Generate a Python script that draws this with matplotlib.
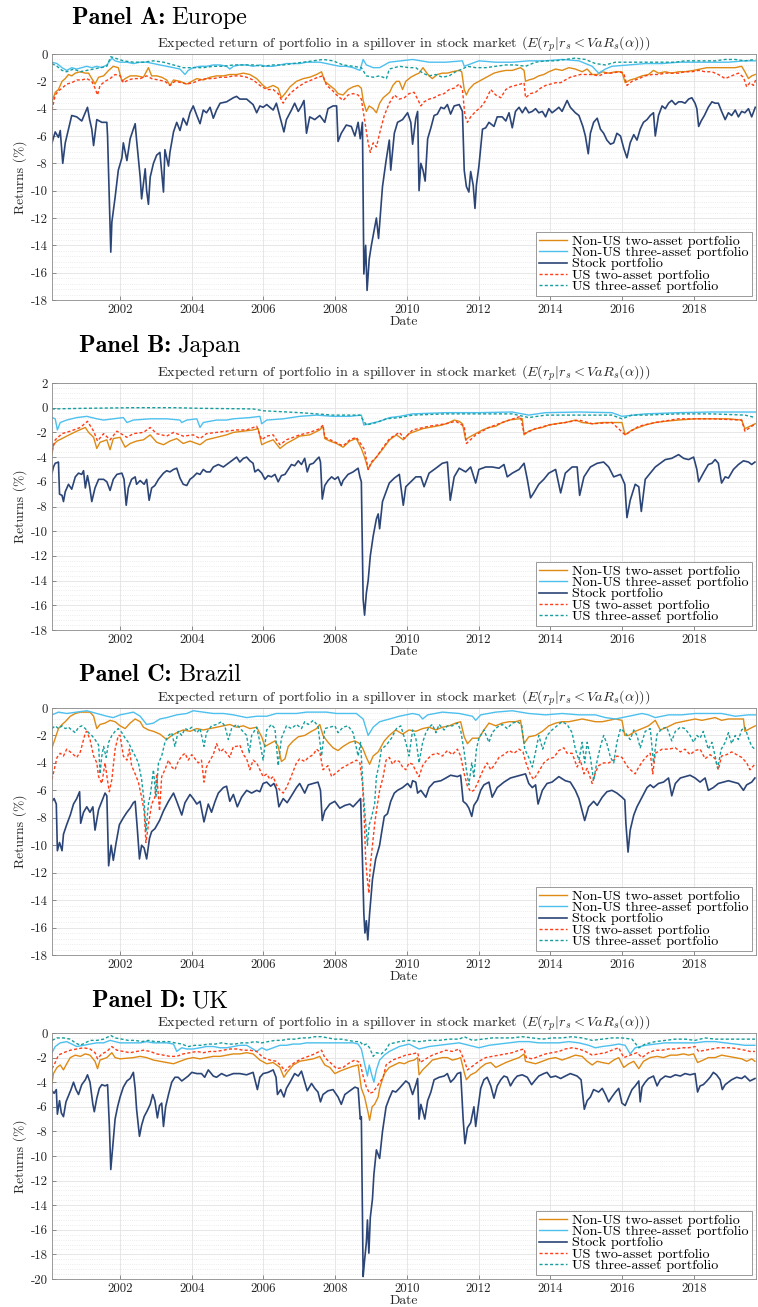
import numpy as np
import matplotlib
matplotlib.use("Agg")
import matplotlib.pyplot as plt
from matplotlib.ticker import MultipleLocator

plt.rcParams["font.family"] = "cmr10"
plt.rcParams["mathtext.fontset"] = "cm"
plt.rcParams["axes.unicode_minus"] = False

# ---- Panel A: Europe (decimal year, return %) ----
europe_two = [(2000.10,-3.5),(2000.19,-2.8),(2000.28,-2.6),(2000.38,-2.0),(2000.47,-1.8),(2000.56,-1.5),(2000.65,-1.6),(2000.75,-1.4),(2000.89,-1.3),(2001.03,-1.4),(2001.12,-1.4),(2001.21,-1.8),(2001.26,-2.0),(2001.30,-2.2),(2001.40,-1.7),(2001.54,-1.6),(2001.68,-1.2),(2001.81,-0.9),(2001.95,-1.0),(2002.05,-2.0),(2002.14,-1.8),(2002.28,-1.6),(2002.46,-1.6),(2002.65,-1.7),(2002.79,-1.0),(2002.88,-1.6),(2003.02,-1.6),(2003.16,-1.7),(2003.30,-1.9),(2003.39,-2.3),(2003.49,-1.9),(2003.67,-2.0),(2003.86,-2.2),(2004.00,-2.0),(2004.14,-1.8),(2004.32,-1.9),(2004.51,-1.7),(2004.69,-1.6),(2004.88,-1.6),(2005.06,-1.5),(2005.25,-1.5),(2005.44,-1.4),(2005.62,-1.5),(2005.81,-1.8),(2005.99,-2.3),(2006.09,-2.5),(2006.27,-2.3),(2006.41,-2.5),(2006.50,-3.2),(2006.60,-2.9),(2006.74,-2.4),(2006.92,-2.0),(2007.11,-1.8),(2007.29,-1.7),(2007.48,-1.5),(2007.62,-1.3),(2007.71,-2.0),(2007.85,-2.3),(2007.99,-2.6),(2008.08,-2.9),(2008.22,-3.0),(2008.36,-2.6),(2008.50,-2.4),(2008.64,-2.3),(2008.73,-2.5),(2008.78,-3.4),(2008.87,-4.2),(2008.95,-3.8),(2009.06,-4.0),(2009.15,-4.3),(2009.24,-3.6),(2009.34,-3.2),(2009.43,-3.0),(2009.52,-2.8),(2009.61,-2.3),(2009.71,-2.0),(2009.79,-2.0),(2009.88,-2.6),(2009.97,-2.0),(2010.11,-1.7),(2010.25,-1.5),(2010.34,-1.4),(2010.45,-1.0),(2010.53,-1.3),(2010.62,-1.6),(2010.71,-1.8),(2010.85,-1.5),(2010.99,-1.4),(2011.13,-1.4),(2011.27,-1.3),(2011.46,-1.2),(2011.53,-1.3),(2011.60,-2.6),(2011.66,-3.0),(2011.73,-2.6),(2011.87,-2.2),(2012.01,-2.0),(2012.15,-1.8),(2012.29,-1.6),(2012.43,-1.4),(2012.57,-1.3),(2012.76,-1.2),(2012.94,-1.2),(2013.17,-1.0),(2013.27,-1.2),(2013.31,-2.0),(2013.40,-1.9),(2013.54,-1.8),(2013.68,-1.6),(2013.82,-1.5),(2013.96,-1.3),(2014.15,-1.1),(2014.33,-1.2),(2014.52,-1.0),(2014.70,-1.1),(2014.89,-1.3),(2015.03,-1.1),(2015.17,-1.5),(2015.31,-1.5),(2015.45,-1.3),(2015.63,-1.4),(2015.82,-1.3),(2016.00,-1.3),(2016.09,-2.1),(2016.23,-1.9),(2016.37,-1.8),(2016.56,-1.6),(2016.74,-1.5),(2016.88,-1.2),(2017.02,-1.4),(2017.21,-1.3),(2017.39,-1.4),(2017.58,-1.3),(2017.76,-1.3),(2018.00,-1.2),(2018.18,-1.1),(2018.37,-1.0),(2018.55,-1.0),(2018.74,-1.0),(2018.92,-1.0),(2019.16,-1.0),(2019.34,-0.9),(2019.43,-1.3),(2019.53,-1.8),(2019.62,-1.6),(2019.72,-1.5)]
europe_three = [(2000.10,-0.6),(2000.24,-0.7),(2000.38,-1.0),(2000.51,-1.2),(2000.65,-1.0),(2000.79,-1.1),(2000.93,-1.0),(2001.07,-0.9),(2001.21,-1.0),(2001.35,-0.9),(2001.49,-1.0),(2001.63,-0.8),(2001.77,-0.3),(2001.86,-0.5),(2002.00,-0.6),(2002.19,-0.6),(2002.37,-0.7),(2002.56,-0.6),(2002.74,-0.6),(2002.93,-0.7),(2003.11,-0.8),(2003.30,-0.9),(2003.49,-1.0),(2003.67,-1.1),(2003.81,-1.5),(2003.90,-1.2),(2004.04,-1.0),(2004.23,-0.9),(2004.41,-0.9),(2004.60,-0.8),(2004.79,-0.8),(2004.97,-0.9),(2005.06,-1.1),(2005.16,-0.9),(2005.34,-0.8),(2005.53,-0.8),(2005.71,-0.9),(2005.90,-0.8),(2006.09,-0.9),(2006.27,-0.9),(2006.46,-0.8),(2006.64,-0.7),(2006.83,-0.7),(2007.01,-0.7),(2007.20,-0.6),(2007.39,-0.6),(2007.57,-0.6),(2007.76,-0.7),(2007.94,-0.8),(2008.13,-0.9),(2008.31,-0.9),(2008.50,-1.0),(2008.69,-1.2),(2008.78,-0.4),(2008.87,-0.8),(2009.06,-1.0),(2009.24,-1.0),(2009.51,-0.6),(2010.16,-0.4),(2010.62,-0.6),(2011.09,-0.6),(2011.55,-0.5),(2011.60,-0.9),(2012.01,-0.5),(2012.48,-0.6),(2012.94,-0.6),(2013.40,-0.5),(2013.87,-0.5),(2014.33,-0.4),(2014.80,-0.5),(2015.17,-0.9),(2015.35,-1.4),(2015.54,-1.1),(2015.72,-0.9),(2016.19,-0.8),(2016.65,-0.7),(2017.12,-0.7),(2017.58,-0.6),(2018.04,-0.6),(2018.51,-0.6),(2018.97,-0.6),(2019.43,-0.5),(2019.72,-0.5)]
europe_stock = [(2000.10,-6.5),(2000.19,-5.7),(2000.28,-6.1),(2000.33,-5.6),(2000.40,-8.0),(2000.47,-6.5),(2000.65,-4.5),(2000.79,-4.6),(2000.93,-4.9),(2001.09,-3.9),(2001.15,-4.8),(2001.21,-5.5),(2001.26,-6.7),(2001.35,-4.8),(2001.49,-5.0),(2001.63,-5.0),(2001.65,-6.0),(2001.74,-14.5),(2001.77,-12.3),(2001.86,-10.5),(2001.95,-8.5),(2002.05,-7.6),(2002.09,-6.5),(2002.19,-7.8),(2002.28,-6.2),(2002.37,-5.5),(2002.42,-5.1),(2002.46,-6.3),(2002.56,-9.0),(2002.60,-10.6),(2002.70,-8.4),(2002.74,-10.0),(2002.79,-11.0),(2002.84,-9.0),(2002.93,-8.0),(2003.02,-7.4),(2003.11,-7.2),(2003.21,-10.1),(2003.25,-7.0),(2003.35,-8.2),(2003.39,-7.2),(2003.49,-5.7),(2003.58,-5.0),(2003.67,-5.6),(2003.76,-4.7),(2003.86,-5.2),(2003.95,-4.3),(2004.04,-3.8),(2004.14,-4.5),(2004.23,-5.1),(2004.32,-4.1),(2004.41,-4.3),(2004.51,-3.9),(2004.60,-4.7),(2004.69,-4.1),(2004.79,-3.6),(2004.97,-3.5),(2005.16,-3.2),(2005.25,-3.1),(2005.34,-3.3),(2005.53,-3.3),(2005.71,-3.7),(2005.81,-4.3),(2005.90,-3.8),(2005.99,-3.9),(2006.09,-3.7),(2006.27,-4.1),(2006.36,-3.6),(2006.46,-4.6),(2006.57,-5.7),(2006.64,-4.8),(2006.78,-4.1),(2006.87,-3.6),(2006.97,-4.2),(2007.06,-3.8),(2007.13,-3.4),(2007.20,-5.8),(2007.29,-4.6),(2007.43,-4.8),(2007.57,-4.5),(2007.71,-5.0),(2007.80,-4.0),(2007.94,-3.8),(2008.04,-3.8),(2008.08,-6.4),(2008.17,-5.8),(2008.31,-5.2),(2008.45,-5.3),(2008.55,-6.0),(2008.64,-5.0),(2008.70,-6.2),(2008.76,-5.0),(2008.80,-16.1),(2008.85,-14.0),(2008.89,-17.3),(2008.95,-15.0),(2009.01,-14.0),(2009.10,-12.7),(2009.15,-12.0),(2009.21,-13.5),(2009.32,-9.7),(2009.42,-7.8),(2009.51,-6.3),(2009.55,-8.5),(2009.65,-5.8),(2009.74,-5.0),(2009.88,-4.8),(2010.02,-4.3),(2010.11,-5.0),(2010.16,-6.6),(2010.25,-4.7),(2010.30,-4.2),(2010.34,-10.0),(2010.39,-8.0),(2010.45,-8.5),(2010.51,-9.3),(2010.58,-6.2),(2010.67,-5.4),(2010.76,-4.5),(2010.85,-4.4),(2010.95,-3.9),(2011.04,-4.0),(2011.13,-3.7),(2011.22,-4.4),(2011.32,-3.8),(2011.46,-3.7),(2011.55,-4.2),(2011.60,-8.5),(2011.66,-9.7),(2011.73,-10.1),(2011.78,-8.6),(2011.85,-9.6),(2011.90,-11.3),(2011.94,-9.6),(2012.01,-8.2),(2012.11,-5.5),(2012.20,-5.4),(2012.29,-5.0),(2012.43,-5.3),(2012.52,-4.6),(2012.66,-4.6),(2012.76,-4.9),(2012.85,-4.3),(2012.94,-5.4),(2013.03,-4.2),(2013.13,-3.9),(2013.22,-4.3),(2013.31,-3.9),(2013.40,-4.3),(2013.50,-4.2),(2013.59,-4.0),(2013.68,-4.3),(2013.78,-4.2),(2013.87,-4.6),(2013.96,-4.0),(2014.05,-4.3),(2014.15,-4.1),(2014.24,-3.9),(2014.33,-4.2),(2014.47,-3.4),(2014.56,-3.9),(2014.70,-4.3),(2014.80,-4.5),(2014.91,-5.3),(2014.98,-6.0),(2015.06,-7.3),(2015.12,-5.8),(2015.21,-5.0),(2015.31,-4.7),(2015.40,-5.5),(2015.49,-5.8),(2015.58,-6.3),(2015.68,-6.6),(2015.77,-6.5),(2015.86,-5.8),(2015.96,-6.0),(2016.05,-6.9),(2016.14,-7.6),(2016.23,-6.5),(2016.33,-5.9),(2016.42,-6.3),(2016.51,-5.5),(2016.60,-5.0),(2016.70,-4.8),(2016.79,-4.5),(2016.88,-4.3),(2016.93,-6.0),(2017.02,-4.5),(2017.12,-3.8),(2017.21,-4.0),(2017.30,-3.6),(2017.39,-3.4),(2017.49,-3.7),(2017.58,-3.5),(2017.67,-3.5),(2017.76,-3.6),(2017.86,-3.3),(2017.95,-3.2),(2018.04,-3.6),(2018.09,-4.0),(2018.14,-5.3),(2018.21,-4.9),(2018.30,-4.5),(2018.41,-3.9),(2018.51,-3.5),(2018.60,-3.6),(2018.69,-3.6),(2018.78,-4.2),(2018.88,-4.8),(2018.97,-4.3),(2019.06,-4.5),(2019.16,-4.1),(2019.25,-4.6),(2019.34,-4.2),(2019.43,-4.3),(2019.53,-4.0),(2019.62,-4.6),(2019.72,-3.9)]
europe_us_two = [(2000.10,-4.1),(2000.19,-3.0),(2000.28,-2.7),(2000.38,-2.5),(2000.51,-2.2),(2000.65,-2.1),(2000.79,-1.9),(2000.93,-1.9),(2001.07,-1.8),(2001.21,-2.0),(2001.30,-2.5),(2001.37,-3.0),(2001.44,-2.3),(2001.58,-2.0),(2001.72,-1.8),(2001.86,-1.5),(2002.00,-1.6),(2002.09,-2.1),(2002.23,-1.9),(2002.37,-1.8),(2002.56,-1.8),(2002.74,-1.6),(2002.88,-1.8),(2003.07,-1.9),(2003.25,-2.0),(2003.39,-2.3),(2003.53,-2.0),(2003.72,-2.1),(2003.86,-2.2),(2004.04,-2.1),(2004.23,-1.9),(2004.41,-1.8),(2004.60,-1.8),(2004.79,-1.7),(2004.97,-1.7),(2005.16,-1.6),(2005.34,-1.6),(2005.53,-1.7),(2005.71,-1.9),(2005.90,-2.3),(2006.09,-2.6),(2006.27,-2.6),(2006.41,-2.9),(2006.55,-3.6),(2006.64,-3.2),(2006.78,-2.8),(2006.97,-2.4),(2007.15,-2.1),(2007.34,-1.9),(2007.52,-1.7),(2007.66,-1.6),(2007.76,-2.3),(2007.90,-2.6),(2008.04,-3.0),(2008.22,-3.4),(2008.36,-3.0),(2008.50,-2.9),(2008.64,-3.0),(2008.73,-3.3),(2008.82,-4.8),(2008.92,-6.5),(2008.98,-7.2),(2009.06,-6.5),(2009.15,-6.8),(2009.24,-5.8),(2009.37,-4.5),(2009.51,-3.6),(2009.65,-3.0),(2009.79,-3.3),(2009.93,-3.2),(2010.06,-2.9),(2010.20,-2.8),(2010.30,-3.3),(2010.39,-3.8),(2010.48,-3.5),(2010.62,-3.3),(2010.76,-3.2),(2010.90,-3.0),(2011.04,-2.9),(2011.18,-2.6),(2011.32,-2.5),(2011.46,-2.2),(2011.55,-2.6),(2011.62,-4.5),(2011.69,-5.0),(2011.78,-4.6),(2011.92,-4.2),(2012.06,-3.9),(2012.20,-3.4),(2012.34,-2.6),(2012.48,-3.0),(2012.62,-3.2),(2012.76,-2.6),(2012.89,-2.4),(2013.03,-2.3),(2013.17,-2.2),(2013.27,-2.1),(2013.31,-3.2),(2013.45,-2.9),(2013.59,-2.8),(2013.73,-2.5),(2013.87,-2.3),(2014.01,-2.2),(2014.15,-2.1),(2014.29,-2.1),(2014.42,-1.9),(2014.56,-1.7),(2014.70,-1.6),(2014.84,-1.5),(2014.98,-1.5),(2015.17,-1.5),(2015.35,-1.6),(2015.54,-1.4),(2015.72,-1.4),(2015.91,-1.3),(2016.05,-1.4),(2016.14,-2.3),(2016.28,-2.0),(2016.47,-1.8),(2016.65,-1.6),(2016.84,-1.5),(2017.02,-1.5),(2017.21,-1.4),(2017.39,-1.4),(2017.58,-1.4),(2017.76,-1.3),(2017.95,-1.3),(2018.14,-1.2),(2018.32,-1.3),(2018.51,-1.3),(2018.69,-1.5),(2018.88,-1.8),(2019.06,-1.6),(2019.25,-1.4),(2019.39,-1.7),(2019.48,-2.4),(2019.57,-2.1),(2019.67,-2.3),(2019.73,-1.9)]
europe_us_three = [(2000.10,-0.7),(2000.24,-0.9),(2000.38,-1.2),(2000.51,-1.3),(2000.70,-1.1),(2000.89,-1.3),(2001.07,-1.2),(2001.26,-1.1),(2001.44,-1.0),(2001.63,-0.9),(2001.74,-0.2),(2001.86,-0.3),(2002.09,-0.5),(2002.37,-0.6),(2002.65,-0.6),(2002.93,-0.5),(2003.21,-0.6),(2003.49,-0.8),(2003.76,-1.0),(2004.04,-1.0),(2004.32,-1.0),(2004.60,-0.9),(2004.88,-0.9),(2005.16,-0.8),(2005.44,-0.8),(2005.71,-0.8),(2005.99,-0.9),(2006.27,-0.8),(2006.55,-0.8),(2006.83,-0.7),(2007.11,-0.6),(2007.39,-0.5),(2007.66,-0.4),(2007.94,-0.5),(2008.22,-0.8),(2008.50,-0.9),(2008.73,-1.0),(2008.87,-1.6),(2009.06,-1.7),(2009.24,-1.6),(2009.43,-1.8),(2009.51,-1.1),(2009.79,-0.9),(2010.06,-1.0),(2010.25,-1.0),(2010.44,-1.4),(2010.62,-1.6),(2010.81,-1.5),(2010.99,-1.7),(2011.18,-1.6),(2011.36,-1.3),(2011.55,-1.1),(2011.69,-0.9),(2011.92,-1.0),(2012.20,-1.0),(2012.48,-0.9),(2012.76,-0.8),(2013.03,-0.8),(2013.31,-0.9),(2013.59,-0.6),(2013.87,-0.5),(2014.15,-0.5),(2014.42,-0.4),(2014.70,-0.3),(2014.98,-0.4),(2015.26,-0.7),(2015.54,-0.8),(2015.82,-0.6),(2016.09,-0.6),(2016.37,-0.6),(2016.65,-0.6),(2016.93,-0.6),(2017.21,-0.6),(2017.49,-0.6),(2017.76,-0.5),(2018.04,-0.5),(2018.32,-0.5),(2018.60,-0.5),(2018.88,-0.4),(2019.16,-0.4),(2019.43,-0.5),(2019.72,-0.4)]

# ---- Panel B: Japan ----
japan_two = [(2000.10,-3.8),(2000.14,-3.0),(2000.24,-2.7),(2000.38,-2.5),(2000.51,-2.3),(2000.79,-1.9),(2001.03,-1.6),(2001.12,-2.0),(2001.26,-2.4),(2001.35,-3.3),(2001.44,-2.8),(2001.63,-2.6),(2001.72,-3.4),(2001.81,-2.5),(2002.00,-2.4),(2002.14,-3.2),(2002.28,-2.9),(2002.46,-2.7),(2002.65,-2.6),(2002.84,-2.2),(2003.02,-2.8),(2003.21,-3.0),(2003.39,-2.7),(2003.58,-2.5),(2003.76,-2.9),(2003.95,-2.7),(2004.23,-3.0),(2004.41,-2.6),(2004.69,-2.4),(2004.97,-2.2),(2005.16,-2.0),(2005.44,-1.9),(2005.71,-1.8),(2005.85,-1.7),(2005.95,-3.0),(2006.09,-2.8),(2006.27,-2.6),(2006.46,-3.3),(2006.64,-2.9),(2006.83,-2.6),(2007.01,-2.3),(2007.29,-2.2),(2007.57,-1.8),(2007.66,-1.5),(2007.71,-2.5),(2007.85,-2.7),(2008.04,-2.9),(2008.22,-3.2),(2008.41,-2.7),(2008.59,-2.5),(2008.73,-3.3),(2008.82,-4.0),(2008.92,-5.0),(2009.01,-4.5),(2009.15,-4.0),(2009.34,-3.3),(2009.52,-2.6),(2009.71,-2.2),(2009.90,-2.6),(2010.06,-2.1),(2010.25,-1.9),(2010.44,-1.7),(2010.62,-1.6),(2010.81,-1.5),(2010.99,-1.4),(2011.18,-1.2),(2011.32,-1.0),(2011.46,-1.1),(2011.55,-1.3),(2011.64,-2.6),(2011.73,-2.4),(2011.92,-2.1),(2012.11,-1.8),(2012.29,-1.6),(2012.48,-1.5),(2012.66,-1.2),(2012.85,-1.0),(2013.13,-0.9),(2013.22,-0.9),(2013.27,-2.2),(2013.40,-1.9),(2013.59,-1.7),(2013.78,-1.6),(2013.96,-1.4),(2014.15,-1.3),(2014.42,-1.2),(2014.70,-1.0),(2014.89,-1.2),(2015.17,-1.3),(2015.45,-1.2),(2015.72,-1.2),(2016.00,-1.2),(2016.09,-2.2),(2016.28,-1.8),(2016.47,-1.6),(2016.65,-1.4),(2016.93,-1.2),(2017.21,-1.1),(2017.58,-1.0),(2018.04,-0.9),(2018.51,-0.9),(2018.97,-0.9),(2019.34,-1.0),(2019.43,-1.7),(2019.57,-1.5),(2019.72,-1.3)]
japan_three = [(2000.10,-0.8),(2000.19,-0.9),(2000.25,-1.8),(2000.33,-1.2),(2000.51,-1.0),(2000.79,-0.8),(2001.07,-0.7),(2001.35,-0.9),(2001.54,-1.0),(2001.81,-0.9),(2002.09,-0.8),(2002.19,-1.2),(2002.37,-1.0),(2002.84,-0.9),(2003.30,-0.9),(2003.67,-1.0),(2003.72,-1.2),(2003.86,-1.0),(2004.14,-0.9),(2004.23,-1.6),(2004.32,-1.2),(2004.69,-1.0),(2004.97,-1.0),(2005.16,-0.9),(2005.62,-0.8),(2005.90,-0.7),(2005.95,-1.3),(2006.09,-1.0),(2006.55,-0.9),(2007.01,-0.7),(2007.48,-0.6),(2007.94,-0.7),(2008.41,-0.7),(2008.73,-0.6),(2008.80,-1.4),(2008.95,-1.3),(2009.24,-1.1),(2009.52,-0.8),(2009.80,-0.7),(2010.16,-0.5),(2011.09,-0.4),(2012.01,-0.4),(2012.94,-0.35),(2013.40,-0.6),(2013.87,-0.4),(2014.80,-0.35),(2015.72,-0.4),(2016.00,-0.7),(2016.65,-0.5),(2017.58,-0.4),(2018.51,-0.35),(2019.72,-0.35)]
japan_stock = [(2000.10,-5.3),(2000.14,-4.8),(2000.19,-4.5),(2000.28,-4.4),(2000.31,-7.0),(2000.38,-7.1),(2000.42,-7.6),(2000.47,-6.8),(2000.56,-6.2),(2000.65,-6.6),(2000.75,-5.6),(2000.84,-5.3),(2000.93,-5.4),(2000.98,-5.1),(2001.03,-6.5),(2001.09,-5.5),(2001.15,-6.4),(2001.21,-7.6),(2001.30,-6.5),(2001.40,-5.8),(2001.54,-5.8),(2001.63,-6.0),(2001.72,-6.7),(2001.81,-5.8),(2001.91,-5.4),(2002.05,-5.3),(2002.11,-5.8),(2002.17,-7.9),(2002.23,-6.5),(2002.32,-5.8),(2002.42,-5.6),(2002.46,-6.2),(2002.56,-5.9),(2002.67,-6.2),(2002.74,-5.8),(2002.81,-7.5),(2002.88,-6.5),(2002.97,-6.3),(2003.07,-5.8),(2003.21,-5.3),(2003.30,-5.1),(2003.39,-5.2),(2003.49,-5.0),(2003.58,-4.9),(2003.67,-5.7),(2003.76,-6.2),(2003.86,-6.3),(2003.95,-5.8),(2004.04,-5.6),(2004.14,-5.3),(2004.23,-5.4),(2004.32,-5.0),(2004.41,-5.2),(2004.51,-5.2),(2004.60,-4.8),(2004.74,-4.6),(2004.88,-4.8),(2005.02,-4.5),(2005.16,-4.2),(2005.25,-4.0),(2005.34,-4.4),(2005.44,-4.1),(2005.53,-4.0),(2005.62,-4.3),(2005.71,-4.5),(2005.76,-5.2),(2005.85,-5.0),(2005.95,-5.3),(2006.04,-5.8),(2006.13,-5.5),(2006.22,-5.6),(2006.32,-5.4),(2006.41,-6.0),(2006.50,-5.5),(2006.60,-5.4),(2006.69,-5.0),(2006.78,-4.6),(2006.87,-4.7),(2006.97,-4.3),(2007.06,-4.6),(2007.15,-4.1),(2007.22,-5.2),(2007.29,-4.6),(2007.39,-4.5),(2007.48,-4.2),(2007.55,-4.0),(2007.59,-4.4),(2007.64,-7.4),(2007.71,-6.3),(2007.80,-5.9),(2007.90,-5.6),(2007.99,-5.8),(2008.08,-5.6),(2008.17,-6.3),(2008.22,-5.9),(2008.36,-5.4),(2008.50,-5.2),(2008.59,-5.0),(2008.64,-4.9),(2008.69,-5.6),(2008.73,-6.0),(2008.78,-15.5),(2008.82,-16.8),(2008.87,-15.0),(2008.92,-14.0),(2008.98,-12.0),(2009.06,-10.4),(2009.15,-9.0),(2009.20,-8.6),(2009.24,-9.8),(2009.32,-7.6),(2009.42,-6.8),(2009.51,-6.1),(2009.65,-5.7),(2009.79,-5.4),(2009.90,-7.9),(2009.97,-6.4),(2010.11,-6.0),(2010.25,-5.6),(2010.39,-5.6),(2010.48,-6.4),(2010.62,-5.3),(2010.81,-4.9),(2010.99,-4.5),(2011.13,-4.4),(2011.21,-7.5),(2011.32,-5.6),(2011.46,-4.9),(2011.64,-5.2),(2011.78,-4.8),(2011.92,-6.1),(2012.01,-5.0),(2012.20,-4.8),(2012.38,-4.8),(2012.57,-4.9),(2012.71,-4.6),(2012.80,-5.6),(2012.94,-5.3),(2013.13,-5.0),(2013.27,-4.5),(2013.36,-5.8),(2013.45,-7.3),(2013.54,-6.9),(2013.68,-6.2),(2013.82,-5.8),(2013.96,-5.3),(2014.15,-5.0),(2014.29,-6.9),(2014.42,-5.3),(2014.61,-4.8),(2014.75,-4.8),(2014.82,-7.1),(2014.94,-5.6),(2015.12,-4.8),(2015.31,-4.5),(2015.49,-4.4),(2015.63,-4.8),(2015.77,-5.6),(2015.96,-5.4),(2016.08,-6.2),(2016.14,-8.9),(2016.23,-7.5),(2016.37,-6.2),(2016.47,-6.4),(2016.54,-8.4),(2016.65,-5.8),(2016.79,-5.3),(2016.93,-4.8),(2017.07,-4.5),(2017.21,-4.2),(2017.39,-4.1),(2017.58,-3.8),(2017.72,-4.1),(2017.86,-4.2),(2018.00,-4.0),(2018.09,-5.0),(2018.14,-6.0),(2018.27,-5.3),(2018.41,-4.6),(2018.51,-4.5),(2018.60,-4.2),(2018.69,-4.5),(2018.78,-6.1),(2018.88,-5.6),(2018.97,-5.7),(2019.11,-5.0),(2019.25,-4.6),(2019.39,-4.3),(2019.53,-4.4),(2019.62,-4.6),(2019.71,-4.4)]
japan_us_two = [(2000.10,-3.5),(2000.19,-2.6),(2000.38,-2.1),(2000.61,-1.9),(2000.89,-1.6),(2001.09,-1.1),(2001.26,-1.9),(2001.37,-2.7),(2001.54,-2.1),(2001.72,-2.6),(2001.91,-1.9),(2002.19,-2.4),(2002.37,-2.1),(2002.65,-2.0),(2002.84,-1.6),(2003.02,-2.1),(2003.30,-2.3),(2003.49,-2.0),(2003.76,-2.3),(2004.04,-2.2),(2004.23,-2.5),(2004.41,-2.1),(2004.69,-2.0),(2004.97,-1.9),(2005.25,-1.8),(2005.53,-1.8),(2005.81,-1.5),(2005.95,-2.6),(2006.09,-2.3),(2006.27,-2.2),(2006.46,-3.0),(2006.64,-2.6),(2006.83,-2.4),(2007.01,-2.2),(2007.29,-2.0),(2007.57,-1.7),(2007.66,-1.4),(2007.71,-2.4),(2007.94,-2.7),(2008.22,-3.1),(2008.41,-2.6),(2008.59,-2.4),(2008.73,-3.0),(2008.82,-3.4),(2008.92,-5.0),(2009.01,-4.4),(2009.15,-4.0),(2009.34,-3.2),(2009.52,-2.5),(2009.79,-2.0),(2009.93,-2.5),(2010.16,-1.8),(2010.62,-1.5),(2011.09,-1.3),(2011.36,-1.1),(2011.60,-1.5),(2011.66,-2.9),(2011.92,-2.2),(2012.29,-1.6),(2012.66,-1.2),(2013.17,-0.7),(2013.27,-2.1),(2013.59,-1.7),(2013.96,-1.4),(2014.42,-1.2),(2014.80,-1.0),(2015.17,-1.3),(2015.72,-1.2),(2016.09,-2.2),(2016.47,-1.5),(2016.93,-1.2),(2017.58,-0.9),(2018.51,-0.9),(2019.34,-1.0),(2019.43,-1.9),(2019.72,-1.3)]
japan_us_three = [(2000.10,-0.1),(2001.00,-0.05),(2002.37,0.0),(2003.50,0.0),(2004.23,-0.05),(2005.71,-0.1),(2006.00,-0.25),(2007.01,-0.4),(2007.94,-0.6),(2008.69,-0.6),(2008.78,-1.0),(2008.87,-1.4),(2009.15,-1.2),(2009.43,-0.9),(2009.80,-0.8),(2010.16,-0.6),(2011.09,-0.5),(2012.01,-0.5),(2012.94,-0.5),(2013.40,-0.8),(2013.87,-0.6),(2014.80,-0.6),(2015.72,-0.6),(2016.00,-0.9),(2016.28,-0.6),(2016.65,-0.6),(2017.58,-0.5),(2018.51,-0.5),(2019.43,-0.6),(2019.72,-0.8)]

# ---- Panel C: Brazil ----
brazil_two = [(2000.10,-2.9),(2000.19,-2.2),(2000.28,-1.5),(2000.38,-1.2),(2000.47,-1.0),(2000.61,-0.6),(2000.75,-0.4),(2000.89,-0.3),(2001.03,-0.3),(2001.16,-0.3),(2001.26,-0.6),(2001.35,-1.5),(2001.44,-1.2),(2001.58,-1.1),(2001.72,-0.9),(2001.86,-1.0),(2002.00,-1.3),(2002.14,-1.5),(2002.28,-1.1),(2002.42,-0.8),(2002.56,-1.0),(2002.65,-1.4),(2002.79,-1.6),(2002.93,-1.7),(2003.11,-1.9),(2003.30,-2.3),(2003.44,-2.0),(2003.58,-1.8),(2003.76,-1.6),(2003.95,-1.7),(2004.14,-1.5),(2004.32,-1.6),(2004.51,-1.5),(2004.69,-1.4),(2004.88,-1.3),(2005.06,-1.2),(2005.25,-1.4),(2005.44,-1.3),(2005.62,-1.5),(2005.81,-1.4),(2005.95,-2.1),(2006.04,-2.8),(2006.18,-2.6),(2006.32,-2.4),(2006.41,-2.8),(2006.50,-3.9),(2006.60,-3.7),(2006.69,-2.8),(2006.83,-2.4),(2006.97,-2.1),(2007.15,-2.0),(2007.34,-1.7),(2007.48,-1.5),(2007.57,-1.2),(2007.66,-2.0),(2007.80,-2.5),(2007.94,-2.9),(2008.08,-3.1),(2008.22,-2.8),(2008.41,-2.5),(2008.55,-2.4),(2008.69,-2.6),(2008.78,-3.0),(2008.87,-3.6),(2008.96,-4.1),(2009.06,-3.5),(2009.20,-3.2),(2009.37,-2.4),(2009.51,-2.0),(2009.69,-1.6),(2009.88,-1.9),(2010.06,-1.6),(2010.25,-1.7),(2010.44,-1.5),(2010.62,-1.4),(2010.81,-1.6),(2010.99,-1.4),(2011.18,-1.3),(2011.36,-1.1),(2011.50,-1.0),(2011.60,-2.1),(2011.69,-2.6),(2011.83,-2.2),(2012.01,-2.2),(2012.15,-1.6),(2012.29,-1.1),(2012.48,-1.3),(2012.66,-1.1),(2012.85,-1.0),(2013.03,-1.0),(2013.17,-0.9),(2013.27,-2.6),(2013.40,-2.1),(2013.59,-2.0),(2013.78,-1.7),(2013.96,-1.3),(2014.15,-1.1),(2014.33,-1.0),(2014.52,-1.0),(2014.70,-0.9),(2014.89,-0.8),(2015.07,-0.9),(2015.26,-1.0),(2015.45,-1.0),(2015.63,-0.9),(2015.82,-0.8),(2016.00,-0.9),(2016.08,-2.0),(2016.19,-2.0),(2016.37,-1.7),(2016.56,-1.5),(2016.74,-1.3),(2016.93,-0.9),(2017.07,-1.6),(2017.26,-1.4),(2017.49,-1.1),(2017.67,-1.0),(2017.86,-0.9),(2018.04,-0.8),(2018.23,-0.9),(2018.41,-0.8),(2018.60,-0.7),(2018.78,-0.9),(2018.97,-0.8),(2019.25,-0.8),(2019.39,-0.8),(2019.43,-1.7),(2019.57,-1.5),(2019.72,-1.3)]
brazil_three = [(2000.10,-0.5),(2000.28,-0.3),(2000.51,-0.4),(2000.79,-0.3),(2001.07,-0.2),(2001.35,-0.4),(2001.63,-0.6),(2001.81,-0.7),(2002.00,-0.5),(2002.19,-0.4),(2002.37,-0.3),(2002.56,-0.6),(2002.74,-1.2),(2002.93,-1.1),(2003.11,-0.8),(2003.30,-0.7),(2003.58,-0.5),(2003.86,-0.4),(2004.04,-0.2),(2004.32,-0.3),(2004.60,-0.4),(2004.88,-0.4),(2005.16,-0.5),(2005.53,-0.7),(2005.81,-0.6),(2006.09,-0.6),(2006.36,-0.4),(2006.64,-0.4),(2006.92,-0.4),(2007.20,-0.3),(2007.48,-0.3),(2007.76,-0.3),(2008.04,-0.4),(2008.31,-0.4),(2008.59,-0.4),(2008.78,-0.8),(2008.92,-2.0),(2009.06,-1.4),(2009.24,-1.0),(2009.52,-0.8),(2009.79,-0.6),(2010.16,-0.4),(2010.34,-0.5),(2010.44,-0.8),(2010.58,-0.5),(2010.99,-0.3),(2011.46,-0.4),(2011.83,-0.6),(2011.92,-0.9),(2012.06,-0.5),(2012.48,-0.3),(2012.94,-0.2),(2013.40,-0.4),(2013.87,-0.5),(2014.33,-0.4),(2014.80,-0.5),(2015.26,-0.5),(2015.54,-0.7),(2015.82,-0.8),(2016.19,-0.6),(2016.56,-0.4),(2016.74,-0.5),(2016.93,-0.7),(2017.30,-0.5),(2017.67,-0.5),(2018.04,-0.4),(2018.41,-0.4),(2018.78,-0.4),(2019.16,-0.6),(2019.53,-0.5),(2019.72,-0.5)]
brazil_stock = [(2000.10,-6.8),(2000.16,-6.6),(2000.22,-7.0),(2000.25,-10.4),(2000.31,-9.8),(2000.38,-10.4),(2000.42,-9.2),(2000.51,-8.5),(2000.61,-7.8),(2000.70,-7.0),(2000.79,-6.6),(2000.87,-6.1),(2000.90,-8.4),(2000.98,-7.6),(2001.07,-7.2),(2001.16,-7.6),(2001.24,-7.2),(2001.30,-8.9),(2001.40,-7.4),(2001.49,-6.8),(2001.58,-6.2),(2001.63,-6.4),(2001.68,-11.5),(2001.75,-10.0),(2001.81,-11.1),(2001.89,-9.8),(2001.98,-8.5),(2002.09,-8.0),(2002.19,-7.6),(2002.28,-7.3),(2002.37,-6.9),(2002.42,-6.8),(2002.48,-8.8),(2002.54,-11.0),(2002.60,-10.0),(2002.67,-10.2),(2002.74,-11.0),(2002.82,-9.5),(2002.88,-9.0),(2002.97,-8.8),(2003.10,-8.2),(2003.21,-7.5),(2003.35,-6.8),(2003.49,-6.2),(2003.58,-6.8),(2003.72,-7.8),(2003.81,-6.9),(2003.95,-6.3),(2004.04,-6.6),(2004.14,-7.0),(2004.23,-6.8),(2004.34,-8.3),(2004.46,-7.0),(2004.55,-7.6),(2004.65,-6.8),(2004.74,-6.2),(2004.88,-5.8),(2004.97,-5.7),(2005.06,-6.8),(2005.16,-6.3),(2005.27,-7.2),(2005.39,-6.5),(2005.53,-6.0),(2005.67,-6.2),(2005.81,-6.0),(2005.90,-6.1),(2005.99,-5.5),(2006.09,-5.4),(2006.20,-5.7),(2006.29,-5.5),(2006.36,-5.9),(2006.43,-7.2),(2006.55,-6.6),(2006.66,-6.9),(2006.78,-6.4),(2006.92,-5.8),(2007.01,-5.5),(2007.15,-6.2),(2007.25,-5.6),(2007.39,-5.5),(2007.52,-5.4),(2007.59,-6.0),(2007.64,-8.2),(2007.71,-7.5),(2007.85,-7.0),(2007.99,-6.8),(2008.13,-7.3),(2008.27,-7.1),(2008.41,-7.0),(2008.50,-7.2),(2008.64,-6.8),(2008.71,-6.6),(2008.76,-11.0),(2008.80,-15.0),(2008.83,-16.4),(2008.87,-15.5),(2008.91,-16.9),(2008.96,-15.0),(2009.04,-12.5),(2009.13,-11.0),(2009.24,-10.0),(2009.30,-9.0),(2009.37,-7.9),(2009.46,-7.7),(2009.55,-6.8),(2009.65,-6.2),(2009.74,-6.0),(2009.88,-5.8),(2010.02,-5.5),(2010.11,-5.8),(2010.16,-5.3),(2010.25,-5.4),(2010.30,-6.2),(2010.39,-6.0),(2010.53,-6.5),(2010.62,-5.8),(2010.76,-5.4),(2010.95,-5.3),(2011.09,-5.1),(2011.22,-4.9),(2011.41,-5.0),(2011.50,-4.9),(2011.57,-6.8),(2011.66,-7.0),(2011.73,-7.3),(2011.81,-7.9),(2011.87,-7.1),(2011.97,-6.7),(2012.06,-6.0),(2012.15,-5.6),(2012.29,-5.4),(2012.38,-6.5),(2012.52,-5.8),(2012.71,-5.4),(2012.89,-5.1),(2013.03,-5.0),(2013.17,-4.9),(2013.31,-4.8),(2013.40,-5.5),(2013.50,-5.8),(2013.59,-5.6),(2013.66,-7.0),(2013.78,-6.0),(2013.91,-5.5),(2014.05,-5.4),(2014.24,-5.0),(2014.42,-5.3),(2014.56,-5.4),(2014.70,-6.0),(2014.80,-6.6),(2014.89,-7.5),(2014.96,-8.2),(2015.07,-7.2),(2015.21,-6.8),(2015.31,-7.1),(2015.45,-6.5),(2015.58,-6.1),(2015.72,-6.0),(2015.86,-6.2),(2016.00,-6.5),(2016.08,-6.7),(2016.11,-8.4),(2016.17,-10.5),(2016.23,-8.9),(2016.33,-7.8),(2016.42,-7.2),(2016.56,-6.5),(2016.70,-5.8),(2016.79,-5.6),(2016.88,-5.8),(2017.02,-5.5),(2017.16,-5.4),(2017.30,-5.1),(2017.39,-6.4),(2017.49,-5.5),(2017.63,-5.1),(2017.76,-5.0),(2017.90,-4.9),(2018.04,-5.1),(2018.18,-5.4),(2018.32,-5.1),(2018.41,-6.0),(2018.55,-5.8),(2018.69,-5.5),(2018.83,-5.4),(2018.97,-5.3),(2019.11,-5.4),(2019.25,-5.5),(2019.39,-6.0),(2019.48,-5.6),(2019.62,-5.4),(2019.71,-5.1)]
brazil_us_two = [(2000.10,-5.2),(2000.16,-4.5),(2000.24,-3.6),(2000.33,-3.3),(2000.42,-3.5),(2000.51,-3.0),(2000.61,-3.2),(2000.70,-3.4),(2000.79,-3.6),(2000.89,-3.2),(2000.98,-2.3),(2001.03,-1.8),(2001.07,-1.7),(2001.16,-2.3),(2001.26,-3.5),(2001.35,-4.0),(2001.40,-5.0),(2001.49,-5.5),(2001.58,-4.0),(2001.65,-5.3),(2001.70,-6.1),(2001.77,-5.2),(2001.86,-3.0),(2001.95,-2.0),(2002.00,-2.0),(2002.09,-3.5),(2002.19,-3.8),(2002.26,-3.0),(2002.32,-4.2),(2002.42,-4.8),(2002.51,-5.4),(2002.60,-6.5),(2002.67,-7.5),(2002.72,-9.8),(2002.79,-8.5),(2002.88,-7.0),(2002.97,-6.5),(2003.02,-4.8),(2003.10,-7.5),(2003.16,-5.0),(2003.25,-4.5),(2003.35,-3.8),(2003.44,-4.3),(2003.53,-4.5),(2003.62,-3.9),(2003.72,-3.5),(2003.81,-3.3),(2003.90,-3.8),(2004.00,-3.4),(2004.09,-3.7),(2004.18,-4.0),(2004.27,-3.8),(2004.34,-5.4),(2004.41,-4.3),(2004.51,-3.8),(2004.60,-3.4),(2004.69,-2.6),(2004.79,-3.2),(2004.88,-3.0),(2004.97,-3.3),(2005.06,-3.6),(2005.16,-2.8),(2005.25,-2.8),(2005.34,-2.7),(2005.44,-3.4),(2005.53,-3.7),(2005.62,-4.5),(2005.71,-3.8),(2005.81,-4.0),(2005.90,-4.5),(2005.99,-5.0),(2006.09,-4.8),(2006.18,-5.2),(2006.27,-5.0),(2006.36,-5.6),(2006.46,-6.0),(2006.55,-6.2),(2006.64,-5.8),(2006.74,-5.2),(2006.83,-4.6),(2006.92,-4.0),(2007.01,-3.7),(2007.15,-3.9),(2007.25,-3.6),(2007.39,-3.4),(2007.48,-3.0),(2007.57,-3.2),(2007.66,-4.5),(2007.80,-4.2),(2007.90,-5.0),(2008.04,-4.7),(2008.17,-4.4),(2008.31,-4.2),(2008.45,-4.0),(2008.59,-3.8),(2008.69,-4.0),(2008.76,-5.5),(2008.81,-8.0),(2008.85,-11.0),(2008.89,-12.3),(2008.94,-13.5),(2008.98,-11.5),(2009.04,-10.0),(2009.10,-8.5),(2009.15,-7.5),(2009.24,-6.0),(2009.34,-5.0),(2009.42,-3.8),(2009.51,-3.6),(2009.60,-4.1),(2009.69,-3.8),(2009.79,-3.9),(2009.88,-4.3),(2009.97,-4.5),(2010.06,-4.0),(2010.16,-4.1),(2010.25,-4.6),(2010.34,-5.0),(2010.44,-4.2),(2010.58,-3.7),(2010.71,-3.4),(2010.85,-3.3),(2010.99,-3.5),(2011.13,-3.1),(2011.27,-3.4),(2011.41,-3.0),(2011.50,-3.5),(2011.60,-4.8),(2011.69,-5.7),(2011.78,-6.1),(2011.87,-6.0),(2011.97,-5.5),(2012.06,-4.9),(2012.15,-4.4),(2012.24,-4.0),(2012.34,-4.5),(2012.43,-4.2),(2012.57,-3.6),(2012.71,-3.4),(2012.85,-3.1),(2012.99,-3.3),(2013.13,-3.0),(2013.24,-3.2),(2013.31,-3.9),(2013.45,-4.9),(2013.54,-5.2),(2013.64,-4.8),(2013.73,-4.4),(2013.82,-4.0),(2013.96,-3.7),(2014.10,-3.6),(2014.24,-3.1),(2014.38,-2.9),(2014.47,-3.3),(2014.61,-3.3),(2014.75,-4.3),(2014.84,-3.8),(2014.94,-4.8),(2015.03,-4.4),(2015.17,-5.5),(2015.26,-4.7),(2015.35,-4.2),(2015.49,-4.0),(2015.63,-4.0),(2015.77,-3.8),(2015.86,-3.5),(2016.00,-3.6),(2016.09,-4.0),(2016.19,-4.4),(2016.28,-4.6),(2016.37,-4.8),(2016.47,-4.3),(2016.60,-3.8),(2016.70,-3.5),(2016.79,-3.3),(2016.86,-4.8),(2016.93,-3.3),(2017.12,-3.0),(2017.30,-3.0),(2017.49,-2.9),(2017.63,-3.2),(2017.76,-3.0),(2017.90,-3.4),(2018.04,-3.1),(2018.18,-3.0),(2018.32,-3.7),(2018.46,-3.4),(2018.60,-3.7),(2018.69,-4.5),(2018.78,-3.5),(2018.92,-3.4),(2019.06,-3.2),(2019.20,-3.4),(2019.34,-3.6),(2019.48,-4.0),(2019.57,-4.5),(2019.71,-4.1)]
brazil_us_three = [(2000.10,-1.5),(2000.19,-1.3),(2000.28,-1.5),(2000.38,-1.3),(2000.47,-1.5),(2000.56,-1.4),(2000.65,-1.6),(2000.75,-1.8),(2000.84,-1.4),(2000.93,-1.3),(2001.03,-1.5),(2001.12,-1.8),(2001.21,-2.0),(2001.30,-2.3),(2001.40,-2.7),(2001.44,-4.8),(2001.49,-3.5),(2001.54,-2.8),(2001.61,-3.6),(2001.68,-2.5),(2001.77,-2.0),(2001.86,-1.7),(2001.95,-1.5),(2002.05,-1.8),(2002.14,-2.2),(2002.23,-2.5),(2002.32,-3.0),(2002.42,-3.5),(2002.51,-4.0),(2002.60,-5.2),(2002.67,-6.8),(2002.72,-9.0),(2002.79,-7.0),(2002.85,-6.2),(2002.93,-4.5),(2003.00,-6.5),(2003.07,-4.0),(2003.16,-3.5),(2003.25,-2.5),(2003.35,-2.0),(2003.44,-1.8),(2003.53,-2.8),(2003.62,-1.7),(2003.72,-2.0),(2003.81,-1.5),(2003.90,-1.6),(2004.00,-1.4),(2004.14,-1.8),(2004.23,-1.5),(2004.34,-2.8),(2004.41,-1.8),(2004.55,-1.3),(2004.69,-1.2),(2004.83,-1.0),(2004.92,-1.3),(2005.02,-2.3),(2005.11,-1.5),(2005.25,-1.2),(2005.39,-1.6),(2005.53,-2.0),(2005.60,-3.3),(2005.67,-2.0),(2005.81,-1.4),(2005.90,-2.5),(2005.99,-3.8),(2006.09,-1.6),(2006.22,-1.2),(2006.32,-1.5),(2006.41,-4.2),(2006.50,-2.2),(2006.64,-1.3),(2006.78,-1.5),(2006.92,-1.2),(2007.06,-1.5),(2007.15,-1.0),(2007.25,-1.2),(2007.39,-0.9),(2007.52,-1.3),(2007.62,-3.5),(2007.71,-1.5),(2007.85,-1.4),(2007.99,-1.3),(2008.08,-1.8),(2008.22,-1.4),(2008.36,-1.3),(2008.50,-1.8),(2008.64,-3.5),(2008.71,-2.5),(2008.78,-6.0),(2008.84,-8.0),(2008.90,-10.0),(2008.95,-8.5),(2009.01,-8.0),(2009.10,-7.0),(2009.15,-5.0),(2009.22,-4.2),(2009.29,-3.0),(2009.43,-2.7),(2009.57,-2.2),(2009.71,-1.5),(2009.83,-1.3),(2009.97,-2.5),(2010.06,-3.5),(2010.16,-1.6),(2010.25,-2.2),(2010.34,-4.0),(2010.44,-2.5),(2010.53,-1.8),(2010.62,-1.4),(2010.71,-1.2),(2010.81,-1.8),(2010.90,-1.2),(2011.04,-1.6),(2011.13,-1.3),(2011.27,-1.3),(2011.41,-1.1),(2011.50,-1.6),(2011.60,-3.2),(2011.66,-4.5),(2011.73,-5.6),(2011.81,-4.0),(2011.87,-5.0),(2011.94,-3.0),(2012.01,-2.2),(2012.15,-1.6),(2012.29,-2.5),(2012.38,-1.8),(2012.52,-1.4),(2012.66,-1.2),(2012.80,-1.5),(2012.94,-1.1),(2013.08,-1.0),(2013.20,-1.2),(2013.29,-3.0),(2013.40,-3.6),(2013.50,-4.3),(2013.59,-3.2),(2013.68,-2.0),(2013.79,-3.0),(2013.91,-2.0),(2014.05,-1.6),(2014.19,-1.3),(2014.33,-1.0),(2014.47,-1.2),(2014.61,-1.8),(2014.70,-3.0),(2014.80,-3.8),(2014.89,-2.5),(2014.96,-4.0),(2015.03,-2.5),(2015.12,-3.6),(2015.21,-5.3),(2015.31,-3.8),(2015.40,-2.8),(2015.49,-2.0),(2015.58,-2.6),(2015.68,-3.6),(2015.77,-4.0),(2015.86,-2.5),(2015.96,-1.5),(2016.09,-1.8),(2016.23,-2.3),(2016.33,-1.6),(2016.42,-2.0),(2016.51,-2.9),(2016.65,-1.7),(2016.79,-1.5),(2016.88,-4.0),(2016.98,-1.9),(2017.12,-1.5),(2017.25,-1.4),(2017.39,-2.4),(2017.49,-1.7),(2017.63,-1.4),(2017.76,-1.5),(2017.90,-2.0),(2018.00,-2.5),(2018.09,-2.0),(2018.18,-2.2),(2018.27,-1.7),(2018.41,-3.0),(2018.51,-2.5),(2018.60,-3.5),(2018.67,-4.4),(2018.77,-3.0),(2018.88,-2.5),(2018.97,-1.8),(2019.06,-2.6),(2019.16,-2.0),(2019.25,-2.3),(2019.34,-1.6),(2019.43,-1.4),(2019.53,-2.2),(2019.62,-2.8),(2019.71,-3.0)]

# ---- Panel D: UK ----
uk_two = [(2000.10,-4.1),(2000.14,-3.3),(2000.24,-2.8),(2000.33,-2.6),(2000.42,-3.0),(2000.51,-2.5),(2000.61,-2.0),(2000.75,-1.8),(2000.89,-1.9),(2001.03,-1.7),(2001.16,-1.8),(2001.30,-2.3),(2001.37,-2.9),(2001.44,-2.2),(2001.63,-2.0),(2001.77,-1.6),(2001.86,-2.0),(2002.00,-2.1),(2002.37,-2.0),(2002.56,-1.9),(2002.74,-2.0),(2002.93,-2.2),(2003.11,-2.3),(2003.30,-2.4),(2003.49,-2.5),(2003.67,-2.3),(2003.86,-2.1),(2004.04,-2.0),(2004.23,-2.1),(2004.41,-2.0),(2004.60,-1.9),(2004.79,-1.9),(2004.97,-1.8),(2005.16,-1.7),(2005.34,-1.7),(2005.53,-1.6),(2005.71,-1.7),(2005.90,-2.2),(2006.09,-2.5),(2006.27,-2.4),(2006.46,-2.8),(2006.57,-3.6),(2006.66,-3.2),(2006.83,-2.6),(2007.01,-2.3),(2007.20,-2.2),(2007.39,-2.1),(2007.57,-1.9),(2007.71,-2.6),(2007.85,-2.8),(2007.99,-3.3),(2008.13,-3.1),(2008.31,-2.9),(2008.50,-2.7),(2008.64,-2.6),(2008.73,-4.5),(2008.82,-5.2),(2008.92,-6.5),(2008.96,-7.1),(2009.03,-6.0),(2009.10,-5.8),(2009.20,-5.2),(2009.24,-4.5),(2009.37,-3.3),(2009.51,-2.8),(2009.65,-2.6),(2009.79,-2.4),(2009.93,-2.5),(2010.06,-2.3),(2010.20,-2.2),(2010.30,-2.0),(2010.34,-3.4),(2010.44,-3.0),(2010.58,-2.6),(2010.71,-2.2),(2010.85,-2.1),(2010.99,-2.0),(2011.13,-2.0),(2011.27,-2.2),(2011.41,-2.1),(2011.50,-2.0),(2011.60,-3.2),(2011.66,-3.8),(2011.78,-3.4),(2011.92,-3.2),(2012.06,-2.8),(2012.20,-2.5),(2012.34,-2.4),(2012.48,-2.8),(2012.62,-2.6),(2012.76,-2.4),(2012.94,-2.2),(2013.13,-2.0),(2013.27,-1.7),(2013.31,-2.3),(2013.45,-2.4),(2013.59,-2.5),(2013.78,-2.3),(2013.96,-2.1),(2014.15,-2.0),(2014.33,-2.2),(2014.52,-2.0),(2014.70,-1.8),(2014.89,-1.9),(2015.03,-2.3),(2015.17,-2.6),(2015.31,-2.3),(2015.45,-2.4),(2015.63,-2.5),(2015.77,-2.2),(2015.91,-2.0),(2016.05,-2.8),(2016.19,-2.5),(2016.33,-2.3),(2016.47,-2.9),(2016.60,-2.3),(2016.79,-2.0),(2016.98,-1.9),(2017.16,-2.0),(2017.35,-1.8),(2017.53,-1.8),(2017.72,-1.7),(2017.86,-1.8),(2018.00,-1.7),(2018.11,-2.4),(2018.27,-2.2),(2018.41,-2.0),(2018.60,-2.0),(2018.78,-1.8),(2018.97,-1.9),(2019.16,-2.0),(2019.34,-2.1),(2019.48,-2.3),(2019.62,-2.1),(2019.71,-2.3)]
uk_three = [(2000.10,-1.6),(2000.19,-1.1),(2000.33,-0.8),(2000.51,-0.7),(2000.65,-0.9),(2000.79,-1.1),(2000.98,-1.0),(2001.16,-0.9),(2001.35,-0.8),(2001.54,-0.8),(2001.72,-0.6),(2001.86,-0.7),(2002.00,-0.8),(2002.19,-0.8),(2002.37,-0.8),(2002.56,-0.8),(2002.74,-0.7),(2002.93,-0.8),(2003.11,-0.8),(2003.30,-0.8),(2003.49,-0.9),(2003.58,-1.5),(2003.72,-1.2),(2003.86,-1.3),(2004.04,-1.3),(2004.23,-1.2),(2004.41,-1.1),(2004.60,-1.1),(2004.79,-1.2),(2004.97,-1.2),(2005.16,-1.1),(2005.34,-1.0),(2005.53,-1.0),(2005.71,-1.3),(2005.81,-1.5),(2005.95,-1.2),(2006.09,-1.4),(2006.27,-1.2),(2006.46,-1.0),(2006.64,-1.0),(2006.83,-0.9),(2007.01,-0.9),(2007.20,-0.8),(2007.39,-0.8),(2007.57,-0.8),(2007.76,-0.8),(2007.94,-0.8),(2008.13,-0.8),(2008.31,-0.8),(2008.50,-0.8),(2008.64,-0.9),(2008.73,-1.3),(2008.82,-2.5),(2008.90,-3.5),(2008.95,-2.6),(2009.01,-3.3),(2009.08,-4.0),(2009.15,-3.0),(2009.24,-2.2),(2009.37,-1.8),(2009.51,-1.5),(2009.79,-1.1),(2010.06,-0.9),(2010.34,-1.3),(2010.62,-1.1),(2010.90,-1.0),(2011.18,-0.9),(2011.46,-0.8),(2011.73,-1.0),(2012.01,-1.2),(2012.29,-1.0),(2012.57,-0.9),(2012.85,-0.8),(2013.13,-0.7),(2013.40,-0.7),(2013.68,-0.8),(2013.96,-0.8),(2014.24,-0.8),(2014.52,-0.7),(2014.80,-0.8),(2015.07,-1.0),(2015.26,-1.2),(2015.45,-1.1),(2015.72,-1.0),(2015.91,-0.9),(2016.09,-1.0),(2016.23,-1.7),(2016.37,-1.2),(2016.65,-1.0),(2016.93,-0.9),(2017.21,-0.8),(2017.49,-0.8),(2017.76,-0.8),(2018.04,-0.8),(2018.32,-0.7),(2018.60,-0.7),(2018.88,-0.8),(2019.16,-0.9),(2019.43,-1.0),(2019.71,-1.0)]
uk_stock = [(2000.10,-4.7),(2000.16,-4.9),(2000.22,-4.6),(2000.25,-6.6),(2000.31,-5.5),(2000.36,-6.5),(2000.42,-6.8),(2000.49,-5.6),(2000.56,-5.1),(2000.63,-4.6),(2000.70,-4.0),(2000.77,-4.6),(2000.84,-5.0),(2000.93,-4.2),(2001.03,-3.8),(2001.09,-3.4),(2001.16,-4.0),(2001.24,-5.8),(2001.28,-6.4),(2001.35,-5.3),(2001.42,-4.5),(2001.49,-4.2),(2001.58,-4.3),(2001.65,-4.2),(2001.70,-7.5),(2001.74,-11.1),(2001.80,-9.0),(2001.86,-7.0),(2001.93,-6.0),(2002.00,-5.2),(2002.09,-4.4),(2002.19,-3.9),(2002.28,-3.7),(2002.37,-3.2),(2002.42,-4.5),(2002.46,-6.2),(2002.54,-8.4),(2002.60,-7.5),(2002.67,-6.8),(2002.76,-6.3),(2002.84,-5.8),(2002.91,-5.0),(2002.97,-5.5),(2003.04,-6.9),(2003.10,-5.9),(2003.16,-5.7),(2003.21,-7.6),(2003.27,-6.0),(2003.35,-5.0),(2003.44,-4.0),(2003.53,-3.6),(2003.62,-3.6),(2003.72,-3.9),(2003.81,-3.7),(2003.90,-3.5),(2004.00,-3.2),(2004.14,-3.3),(2004.27,-3.3),(2004.36,-3.6),(2004.46,-3.0),(2004.60,-3.5),(2004.69,-3.6),(2004.83,-3.3),(2004.97,-3.5),(2005.16,-3.3),(2005.34,-3.3),(2005.53,-3.4),(2005.71,-3.2),(2005.83,-4.6),(2005.90,-3.6),(2005.99,-3.3),(2006.13,-3.2),(2006.27,-3.0),(2006.35,-3.6),(2006.39,-5.0),(2006.48,-4.6),(2006.57,-5.2),(2006.64,-4.5),(2006.74,-4.0),(2006.87,-3.3),(2006.97,-3.5),(2007.06,-3.1),(2007.15,-4.0),(2007.22,-4.7),(2007.34,-4.1),(2007.43,-4.5),(2007.52,-4.8),(2007.59,-5.6),(2007.66,-5.0),(2007.80,-4.7),(2007.94,-4.6),(2008.08,-5.2),(2008.17,-5.8),(2008.27,-5.0),(2008.41,-4.7),(2008.55,-4.4),(2008.64,-4.5),(2008.70,-7.0),(2008.73,-6.8),(2008.78,-19.8),(2008.82,-18.5),(2008.87,-17.0),(2008.90,-15.2),(2008.94,-17.9),(2008.98,-15.0),(2009.04,-13.5),(2009.08,-11.5),(2009.15,-9.5),(2009.24,-10.2),(2009.32,-8.0),(2009.42,-6.0),(2009.51,-5.3),(2009.60,-4.7),(2009.69,-4.8),(2009.79,-4.5),(2009.88,-4.2),(2009.97,-3.9),(2010.06,-4.1),(2010.16,-5.0),(2010.25,-4.2),(2010.30,-3.7),(2010.34,-7.0),(2010.39,-5.8),(2010.44,-6.3),(2010.50,-7.0),(2010.58,-5.5),(2010.67,-4.8),(2010.76,-3.8),(2010.90,-3.6),(2011.04,-3.5),(2011.13,-3.3),(2011.22,-4.0),(2011.32,-3.7),(2011.41,-3.3),(2011.50,-3.2),(2011.57,-7.0),(2011.62,-9.0),(2011.69,-7.7),(2011.78,-7.3),(2011.87,-6.0),(2011.92,-7.6),(2011.99,-6.0),(2012.06,-4.5),(2012.15,-3.8),(2012.24,-3.6),(2012.34,-4.3),(2012.43,-5.3),(2012.52,-4.3),(2012.62,-3.8),(2012.71,-3.5),(2012.80,-3.6),(2012.89,-4.3),(2012.99,-3.8),(2013.08,-3.5),(2013.22,-3.4),(2013.36,-3.6),(2013.48,-4.2),(2013.59,-3.8),(2013.68,-3.5),(2013.82,-3.3),(2013.91,-3.2),(2014.01,-3.6),(2014.15,-3.5),(2014.29,-3.7),(2014.42,-3.5),(2014.56,-3.3),(2014.75,-3.5),(2014.86,-3.8),(2014.95,-6.2),(2015.03,-5.5),(2015.12,-5.2),(2015.21,-4.6),(2015.35,-4.8),(2015.45,-4.5),(2015.54,-5.0),(2015.63,-5.6),(2015.72,-5.2),(2015.82,-4.8),(2015.91,-4.5),(2016.00,-5.7),(2016.09,-5.9),(2016.19,-5.2),(2016.28,-4.6),(2016.37,-4.3),(2016.47,-3.9),(2016.51,-5.6),(2016.56,-4.4),(2016.65,-4.0),(2016.74,-3.7),(2016.88,-3.5),(2016.98,-4.3),(2017.07,-3.8),(2017.21,-3.5),(2017.35,-3.6),(2017.49,-3.4),(2017.63,-3.5),(2017.76,-3.3),(2017.90,-3.4),(2018.04,-3.3),(2018.11,-4.8),(2018.18,-4.3),(2018.27,-4.2),(2018.37,-3.9),(2018.46,-3.6),(2018.55,-3.2),(2018.64,-3.4),(2018.74,-3.8),(2018.80,-4.6),(2018.88,-4.2),(2018.97,-4.0),(2019.06,-3.8),(2019.20,-3.6),(2019.34,-3.7),(2019.43,-3.5),(2019.57,-3.9),(2019.71,-3.7)]
uk_us_two = [(2000.10,-2.9),(2000.19,-2.4),(2000.28,-1.8),(2000.42,-1.6),(2000.61,-1.4),(2000.79,-1.3),(2000.98,-1.2),(2001.16,-1.3),(2001.30,-1.6),(2001.37,-2.1),(2001.49,-1.7),(2001.63,-1.5),(2001.77,-1.1),(2001.91,-1.4),(2002.09,-1.5),(2002.28,-1.6),(2002.46,-1.5),(2002.65,-1.4),(2002.84,-1.5),(2003.02,-1.7),(2003.21,-1.8),(2003.39,-1.9),(2003.58,-1.9),(2003.76,-1.7),(2003.95,-1.6),(2004.14,-1.5),(2004.32,-1.6),(2004.51,-1.5),(2004.69,-1.5),(2004.88,-1.4),(2005.06,-1.3),(2005.25,-1.3),(2005.44,-1.4),(2005.62,-1.4),(2005.81,-1.5),(2005.99,-2.0),(2006.18,-2.2),(2006.36,-2.3),(2006.50,-2.7),(2006.60,-3.1),(2006.69,-2.8),(2006.87,-2.4),(2007.06,-2.1),(2007.25,-1.9),(2007.43,-1.7),(2007.62,-1.4),(2007.71,-2.0),(2007.90,-2.5),(2008.04,-2.9),(2008.22,-2.8),(2008.41,-2.4),(2008.55,-2.2),(2008.69,-2.4),(2008.78,-3.5),(2008.87,-4.4),(2008.96,-4.9),(2009.06,-4.8),(2009.20,-4.2),(2009.34,-3.6),(2009.42,-2.6),(2009.60,-2.2),(2009.79,-2.0),(2009.97,-1.8),(2010.16,-1.7),(2010.30,-1.6),(2010.37,-2.4),(2010.53,-2.1),(2010.71,-1.8),(2010.90,-1.6),(2011.09,-1.4),(2011.27,-1.5),(2011.46,-1.3),(2011.60,-2.2),(2011.69,-3.0),(2011.83,-2.7),(2012.01,-2.3),(2012.20,-2.0),(2012.38,-1.9),(2012.57,-1.8),(2012.76,-1.7),(2012.94,-1.6),(2013.13,-1.4),(2013.27,-1.3),(2013.33,-2.0),(2013.50,-2.1),(2013.68,-1.9),(2013.87,-1.7),(2014.05,-1.6),(2014.24,-1.5),(2014.42,-1.3),(2014.61,-1.2),(2014.80,-1.3),(2014.98,-1.5),(2015.17,-1.8),(2015.35,-1.7),(2015.54,-1.6),(2015.72,-1.4),(2015.91,-1.2),(2016.05,-2.0),(2016.23,-1.8),(2016.42,-1.6),(2016.56,-2.0),(2016.74,-1.6),(2016.93,-1.4),(2017.12,-1.4),(2017.30,-1.3),(2017.49,-1.3),(2017.67,-1.2),(2017.86,-1.2),(2018.04,-1.1),(2018.14,-1.5),(2018.32,-1.4),(2018.51,-1.3),(2018.69,-1.2),(2018.88,-1.2),(2019.06,-1.2),(2019.25,-1.3),(2019.43,-1.4),(2019.57,-1.5),(2019.71,-1.5)]
uk_us_three = [(2000.10,-0.6),(2000.24,-0.4),(2000.42,-0.4),(2000.61,-0.5),(2000.75,-0.8),(2000.89,-1.0),(2001.03,-0.8),(2001.16,-0.6),(2001.35,-0.6),(2001.54,-0.5),(2001.74,-0.2),(2001.86,-0.4),(2002.05,-0.5),(2002.23,-0.6),(2002.42,-0.6),(2002.60,-0.7),(2002.79,-0.6),(2002.97,-0.7),(2003.16,-0.7),(2003.35,-0.7),(2003.53,-0.8),(2003.72,-0.9),(2003.90,-1.1),(2004.09,-1.0),(2004.27,-1.0),(2004.46,-0.9),(2004.65,-0.9),(2004.83,-0.8),(2005.02,-0.9),(2005.20,-0.9),(2005.39,-0.8),(2005.58,-0.8),(2005.76,-0.7),(2005.95,-0.8),(2006.13,-0.7),(2006.32,-0.6),(2006.50,-0.6),(2006.69,-0.5),(2006.87,-0.5),(2007.06,-0.4),(2007.25,-0.4),(2007.43,-0.3),(2007.62,-0.3),(2007.80,-0.4),(2007.99,-0.5),(2008.17,-0.5),(2008.36,-0.6),(2008.55,-0.7),(2008.69,-0.7),(2008.78,-1.0),(2008.87,-0.9),(2008.96,-1.2),(2009.06,-1.9),(2009.15,-1.6),(2009.29,-1.7),(2009.43,-1.3),(2009.51,-0.9),(2009.79,-0.7),(2010.06,-0.6),(2010.34,-0.7),(2010.62,-0.6),(2010.90,-0.6),(2011.18,-0.5),(2011.46,-0.5),(2011.60,-0.3),(2011.83,-0.6),(2012.11,-0.5),(2012.38,-0.4),(2012.66,-0.4),(2012.94,-0.4),(2013.22,-0.3),(2013.50,-0.4),(2013.78,-0.5),(2014.05,-0.4),(2014.33,-0.4),(2014.61,-0.3),(2014.89,-0.4),(2015.17,-0.6),(2015.45,-0.5),(2015.72,-0.4),(2016.00,-0.4),(2016.28,-0.5),(2016.47,-1.2),(2016.65,-0.9),(2016.93,-0.7),(2017.21,-0.6),(2017.49,-0.5),(2017.76,-0.5),(2018.04,-0.6),(2018.32,-0.4),(2018.60,-0.5),(2018.88,-0.5),(2019.16,-0.5),(2019.43,-0.5),(2019.71,-0.5)]

labels = ["Non-US two-asset portfolio", "Non-US three-asset portfolio", "Stock portfolio",
          "US two-asset portfolio", "US three-asset portfolio"]
year_ticks = [2002, 2004, 2006, 2008, 2010, 2012, 2014, 2016, 2018]

# colour, linestyle, width per series
styles = [("#DE8A14", "-", 1.0),
          ("#4DC0EE", "-", 1.0),
          ("#2C4577", "-", 1.2),
          ("#FF3D17", (0, (2.2, 1.6)), 1.0),
          ("#169E9E", (0, (2.2, 1.6)), 1.0)]

panels = [
    ("A", "Europe", [europe_two, europe_three, europe_stock, europe_us_two, europe_us_three], (-18, 0), 54, 300, 18),
    ("B", "Japan", [japan_two, japan_three, japan_stock, japan_us_two, japan_us_three], (-18, 2), 383, 630, 346),
    ("C", "Brazil", [brazil_two, brazil_three, brazil_stock, brazil_us_two, brazil_us_three], (-18, 0), 708, 955, 675),
    ("D", "UK", [uk_two, uk_three, uk_stock, uk_us_two, uk_us_three], (-20, 0), 1033, 1279, 1001),
]

W, H = 758, 1307
fig = plt.figure(figsize=(W / 100, H / 100), dpi=100)
renderer = fig.canvas.get_renderer()
subtitle = r"Expected return of portfolio in a spillover in stock market ($E(r_p|r_s < VaR_s(\alpha))$)"

for letter, name, series, (ylo, yhi), top, bot, title_y in panels:
    ax = fig.add_axes([52 / W, 1 - bot / H, (756 - 52) / W, (bot - top) / H])
    for pairs, label, (color, ls, lw) in zip(series, labels, styles):
        t, v = zip(*pairs)
        ax.plot(t, v, color=color, linestyle=ls, linewidth=lw, label=label)

    ax.set_xlim(2000.10, 2019.74)
    ax.set_ylim(ylo, yhi)
    ax.set_xticks(year_ticks)
    ax.set_xticklabels([str(y) for y in year_ticks])
    yt = list(range(ylo, yhi + 1, 2))
    ax.set_yticks(yt)
    ax.set_yticklabels([str(v) for v in yt])
    ax.yaxis.set_minor_locator(MultipleLocator(0.4))

    ax.grid(which="major", color="#e3e3e3", linewidth=0.6)
    ax.grid(which="minor", axis="y", color="#e6e6e6", linestyle=":", linewidth=0.6)
    ax.set_axisbelow(True)
    ax.tick_params(which="major", direction="in", length=3, width=0.6, colors="#7a7a7a",
                   labelcolor="#262626", labelsize=9.3, pad=3)
    ax.tick_params(which="minor", length=0)
    for sp in ax.spines.values():
        sp.set_color("#8a8a8a")
        sp.set_linewidth(0.6)

    ax.set_title(subtitle, fontsize=10.2, pad=2, color="#262626")
    ax.set_xlabel("Date", fontsize=9.8, labelpad=0, color="#262626")
    ax.set_ylabel("Returns (%)", fontsize=9.8, labelpad=3, color="#262626")

    leg = ax.legend(loc="lower right", fontsize=10.2, fancybox=False, edgecolor="#8a8a8a",
                    framealpha=1, borderaxespad=0.3, handlelength=2.0, labelspacing=-0.12,
                    borderpad=0.2, handletextpad=0.35)
    leg.get_frame().set_linewidth(0.6)

    # panel heading: bold "Panel X:" followed by the region name, centred as a pair
    yfig = 1 - title_y / H
    head = fig.text(0, yfig, f"Panel {letter}:", family="cmb10", fontsize=17.5, va="center")
    tail = fig.text(0, yfig, name, family="cmr10", fontsize=17.5, va="center")
    w_head = head.get_window_extent(renderer).width / W
    w_tail = tail.get_window_extent(renderer).width / W
    gap = 6 / W
    x0 = 160 / W - (w_head + gap + w_tail) / 2
    head.set_x(x0)
    tail.set_x(x0 + w_head + gap)

fig.savefig("out.png", dpi=100)
